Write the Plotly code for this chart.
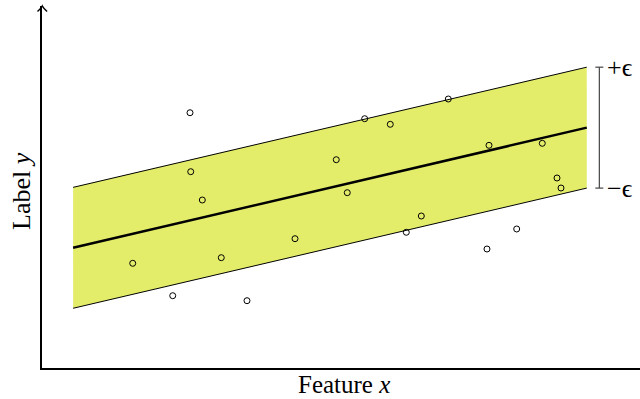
import plotly.graph_objects as go

# ---- data ----
point_x = [2.475, 2.487, 2.681, 1.517, 2.998, 2.186, 3.428, 4.231, 4.921, 5.105, 5.396,
           5.824, 6.092, 6.343, 6.794, 7.441, 7.475, 7.938, 8.366, 8.612, 8.679]
point_y = [7.052, 5.423, 4.641, 2.892, 3.047, 1.997, 1.859, 3.572, 5.754, 4.843, 6.887,
           6.732, 3.749, 4.199, 7.431, 3.287, 6.152, 3.840, 6.207, 5.249, 4.972]
line_x = [0.52, 9.11]
line_y = [3.32, 6.64]
epsilon = 1.67
bracket_x = 9.32
x_range = [0, 10]
y_range = [0, 10]

upper_y = [v + epsilon for v in line_y]
lower_y = [v - epsilon for v in line_y]

W, H = 640, 399
FONT = "Liberation Serif"
band_color = "#e3ed6a"

fig = go.Figure()
# band
fig.add_trace(go.Scatter(x=line_x, y=lower_y, mode="lines",
                         line=dict(color="black", width=1), showlegend=False, hoverinfo="skip"))
fig.add_trace(go.Scatter(x=line_x, y=upper_y, mode="lines", fill="tonexty",
                         fillcolor=band_color,
                         line=dict(color="black", width=1), showlegend=False, hoverinfo="skip"))
# regression line
fig.add_trace(go.Scatter(x=line_x, y=line_y, mode="lines",
                         line=dict(color="black", width=2.5), showlegend=False))
# points
fig.add_trace(go.Scatter(x=point_x, y=point_y, mode="markers",
                         marker=dict(symbol="circle-open", size=6, color="black",
                                     line=dict(width=1, color="black")),
                         showlegend=False))

# epsilon bracket
br_color = "#444444"
fig.add_shape(type="line", xref="x", yref="y", x0=bracket_x, x1=bracket_x,
              y0=lower_y[1], y1=upper_y[1], line=dict(color=br_color, width=1.2))
for yy in (lower_y[1], upper_y[1]):
    fig.add_shape(type="line", xref="x", yref="y", xsizemode="pixel", xanchor=bracket_x,
                  x0=-4, x1=4, y0=yy, y1=yy, line=dict(color=br_color, width=1.2))
fig.add_annotation(x=bracket_x, y=upper_y[1], xref="x", yref="y", text="+ϵ",
                   showarrow=False, xanchor="left", yanchor="middle", xshift=6,
                   font=dict(family=FONT, size=26, color="black"))
fig.add_annotation(x=bracket_x, y=lower_y[1], xref="x", yref="y", text="\u2212ϵ",
                   showarrow=False, xanchor="left", yanchor="middle", xshift=6,
                   font=dict(family=FONT, size=26, color="black"))

# y-axis arrowhead (decoration, pixel-based paper coords)
def px(x):
    return x / W
def py(y):
    return 1 - y / H
fig.add_shape(type="path", xref="paper", yref="paper",
              path=f"M {px(37.5)},{py(11.5)} Q {px(41)},{py(8.5)} {px(42.3)},{py(6)} "
                   f"Q {px(43.6)},{py(8.5)} {px(47.1)},{py(11.5)}",
              line=dict(color="black", width=1.5))

# axis labels
fig.add_annotation(x=px(344), y=py(384), xref="paper", yref="paper",
                   xanchor="center", yanchor="middle",
                   text="Feature <i>x</i>", showarrow=False,
                   font=dict(family=FONT, size=25, color="black"))
fig.add_annotation(x=px(21), y=py(191), xref="paper", yref="paper",
                   xanchor="center", yanchor="middle",
                   text="Label <i>y</i>", showarrow=False, textangle=-90,
                   font=dict(family=FONT, size=26, color="black"))

fig.update_layout(
    width=W, height=H,
    margin=dict(l=0, r=0, t=0, b=0),
    plot_bgcolor="white", paper_bgcolor="white",
    xaxis=dict(domain=[42 / W, 1], range=x_range, showgrid=False, zeroline=False,
               showticklabels=False, ticks="", showline=True, linecolor="black", linewidth=1.5),
    yaxis=dict(domain=[1 - 368 / H, 1 - 6 / H], range=y_range, showgrid=False, zeroline=False,
               showticklabels=False, ticks="", showline=True, linecolor="black", linewidth=1.5),
)

fig.write_html("out.html")
